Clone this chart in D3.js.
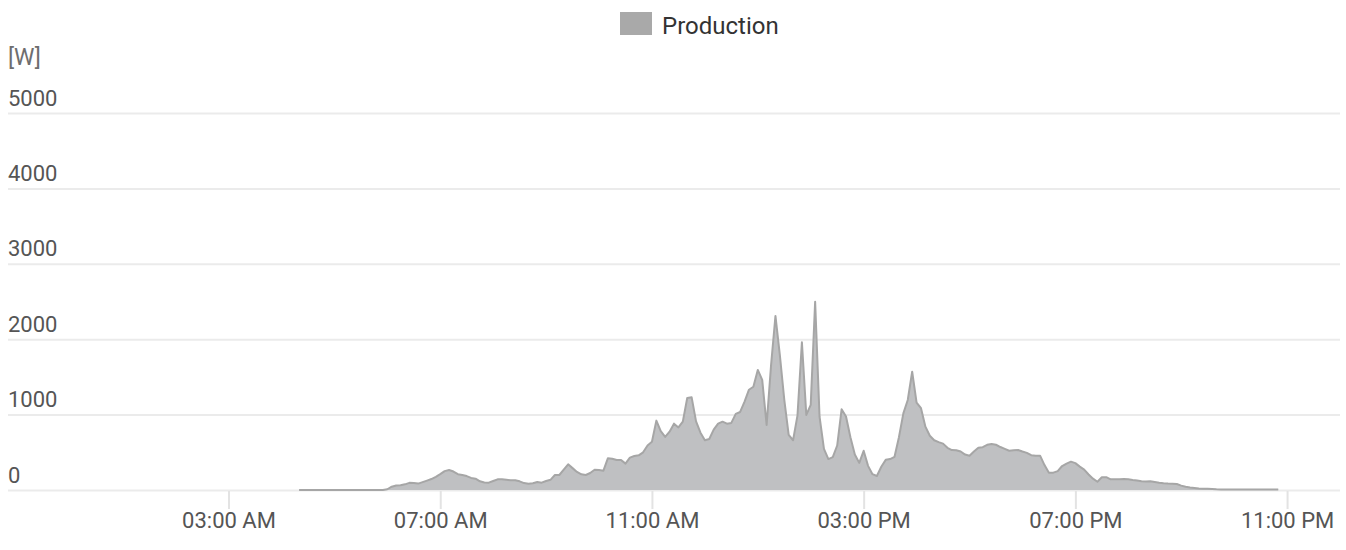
<!DOCTYPE html>
<html>
<head>
<meta charset="utf-8">
<script src="https://cdn.jsdelivr.net/npm/d3@7"></script>
<style>
	body { margin: 0; background: #fff; }
	text { font-family: Roboto, "Open Sans", sans-serif; }
</style>
</head>
<body>
<div id="container"></div>
<script>
// Chart size and plot box
const width = 1346;
const height = 550;
const plotLeft = 8;
const plotRight = 1340;
const plotTop = 113;
const plotBottom = 490;

// Data: production in W, one reading every 5 minutes from 04:20 to 22:50
const seriesName = "Production";
const unitLabel = "[W]";
const firstReading = "04:20";
const stepMinutes = 5;
const production = [
	0, 0, 0, 0, 0, 0, 0, 0, 0, 0, 0, 0, 0, 0, 0, 0, 0, 0, 0, 0,
	10, 44, 60, 62, 75, 95, 92, 85, 105, 125, 145, 175,
	210, 250, 265, 245, 210, 200, 185, 160, 150, 115, 100, 97,
	119, 141, 141, 135, 130, 128, 115, 92, 84, 90, 106, 97,
	120, 135, 199, 199, 270, 340, 290, 240, 208, 199, 225, 268,
	265, 256, 420, 415, 398, 398, 350, 430, 450, 460, 500, 590,
	640, 920, 780, 705, 773, 880, 830, 906, 1220, 1229, 910, 760,
	660, 676, 800, 880, 906, 880, 890, 1010, 1035, 1171, 1330, 1370,
	1592, 1460, 862, 1650, 2308, 1790, 1200, 730, 660, 990, 1959, 995,
	1130, 2497, 972, 545, 410, 435, 590, 1070, 975, 700, 470, 360,
	520, 320, 210, 186, 309, 400, 410, 440, 700, 1017, 1194, 1569,
	1160, 1085, 840, 720, 660, 635, 615, 560, 530, 528, 510, 470,
	455, 510, 560, 568, 600, 610, 600, 570, 545, 521, 526, 530,
	510, 492, 462, 455, 455, 330, 230, 230, 250, 318, 350, 376,
	356, 310, 270, 205, 150, 110, 168, 170, 142, 141, 144, 146,
	142, 133, 126, 116, 112, 115, 105, 95, 88, 85, 84, 80,
	58, 42, 32, 26, 20, 17, 15, 12, 9, 8, 6, 5,
	5, 5, 5, 5, 5, 5, 5, 5, 5, 5, 5
];

// Axis ranges and ticks
const xStart = "2020-06-14 22:50";
const xEnd = "2020-06-16 00:00";
const xTicks = ["03:00", "07:00", "11:00", "15:00", "19:00", "23:00"];
const yMax = 5000;
const yTicks = [0, 1000, 2000, 3000, 4000, 5000];

const parseFull = d3.timeParse("%Y-%m-%d %H:%M");
const day = "2020-06-15 ";
const t0 = parseFull(day + firstReading);
const data = production.map((v, i) => ({t: d3.timeMinute.offset(t0, i*stepMinutes), v: v}));

const x = d3.scaleTime()
	.domain([parseFull(xStart), parseFull(xEnd)])
	.range([plotLeft, plotRight]);

const y = d3.scaleLinear()
	.domain([0, yMax])
	.range([plotBottom, plotTop]);

const svg = d3.select("#container").append("svg")
	.attr("width", width)
	.attr("height", height)
	.style("display", "block");

// Horizontal grid with labels sitting above each line
const yAxis = svg.append("g")
	.attr("transform", `translate(${plotLeft},0)`)
	.call(d3.axisRight(y).tickValues(yTicks).tickSize(plotRight - plotLeft).tickFormat(d3.format("d")));
yAxis.select(".domain").remove();
yAxis.selectAll(".tick line")
	.attr("stroke", "#ebebeb")
	.attr("stroke-width", 2);
yAxis.selectAll(".tick text")
	.attr("x", 0)
	.attr("dy", 0)
	.attr("y", -8)
	.attr("text-anchor", "start")
	.attr("fill", "#555")
	.style("font-size", "22px");

// Area
svg.append("path")
	.datum(data)
	.attr("fill", "#bfc0c2")
	.attr("d", d3.area()
		.x(d => x(d.t))
		.y0(y(0))
		.y1(d => y(d.v)));

svg.append("path")
	.datum(data)
	.attr("fill", "none")
	.attr("stroke", "#a6a6a6")
	.attr("stroke-width", 2)
	.attr("stroke-linejoin", "round")
	.attr("d", d3.line()
		.x(d => x(d.t))
		.y(d => y(d.v)));

// Time axis
const xAxis = svg.append("g")
	.attr("transform", `translate(0,${plotBottom + 1})`)
	.call(d3.axisBottom(x)
		.tickValues(xTicks.map(s => parseFull(day + s)))
		.tickSize(18)
		.tickFormat(d3.timeFormat("%I:%M %p")));
xAxis.select(".domain").remove();
xAxis.selectAll(".tick line")
	.attr("stroke", "#e3e3e3")
	.attr("stroke-width", 2);
xAxis.selectAll(".tick text")
	.attr("y", 37)
	.attr("dy", 0)
	.attr("fill", "#555")
	.style("font-size", "22px");

// Unit label
svg.append("text")
	.attr("x", plotLeft)
	.attr("y", 65)
	.attr("fill", "#6e6e6e")
	.style("font-size", "23px")
	.text(unitLabel);

// Legend
const legend = svg.append("g").attr("transform", "translate(620,12)");
legend.append("rect")
	.attr("width", 32)
	.attr("height", 23)
	.attr("fill", "#a9a9a9");
legend.append("text")
	.attr("x", 42)
	.attr("y", 22)
	.attr("fill", "#333")
	.style("font-size", "24px")
	.text(seriesName);
</script>
</body>
</html>
